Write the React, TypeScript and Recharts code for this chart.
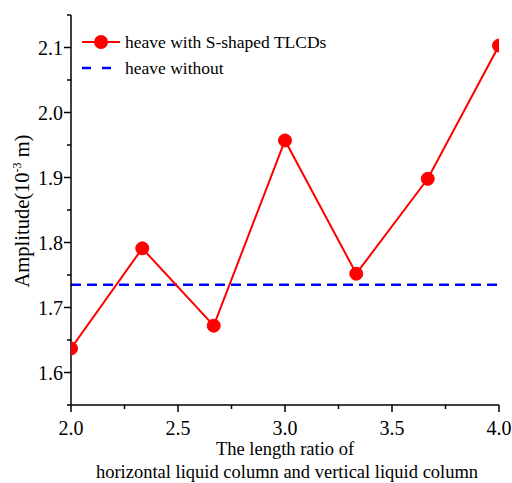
import React from 'react';
import { LineChart, Line, XAxis, YAxis, ReferenceLine, Legend } from 'recharts';

// length ratio (horizontal / vertical liquid column)
const ratios = [2.0, 2.333, 2.667, 3.0, 3.333, 3.667, 4.0];
// heave amplitude with S-shaped TLCDs, 10^-3 m
const heaveWithTLCD = [1.637, 1.791, 1.672, 1.957, 1.752, 1.898, 2.103];
// heave amplitude without dampers, 10^-3 m
const heaveWithout = 1.735;

const xTicks = [2.0, 2.25, 2.5, 2.75, 3.0, 3.25, 3.5, 3.75, 4.0];
const yTicks = [1.55, 1.6, 1.65, 1.7, 1.75, 1.8, 1.85, 1.9, 1.95, 2.0, 2.05, 2.1, 2.15];

const data = ratios.map((r, i) => ({ ratio: r, heave: heaveWithTLCD[i] }));

const FONT = '"Liberation Serif", "Times New Roman", serif';
const txt = { fontFamily: FONT, fill: '#000' };
const isMajor = (v: number, step: number) => Math.abs(v / step - Math.round(v / step)) < 1e-6;

// one tick renderer per side: major/minor lengths, labels only on left/bottom
const makeTick = (side: 'left' | 'bottom' | 'top' | 'right', step: number) => (props: any) => {
  const { x, y, payload } = props;
  const major = isMajor(payload.value, step);
  const len = major ? 7 : 4;
  let line;
  if (side === 'left' || side === 'right') line = <line x1={x} x2={x - len} y1={y} y2={y} />;
  else line = <line x1={x} x2={x} y1={y} y2={y + len} />;
  return (
    <g stroke="#000" strokeWidth={1.5}>
      {line}
      {major && side === 'left' && (
        <text x={x - 8} y={y} dy={7} textAnchor="end" stroke="none" style={{ ...txt, fontSize: 20 }}>
          {payload.value.toFixed(1)}
        </text>
      )}
      {major && side === 'bottom' && (
        <text x={x} y={y + 30} textAnchor="middle" stroke="none" style={{ ...txt, fontSize: 20 }}>
          {payload.value.toFixed(1)}
        </text>
      )}
    </g>
  );
};

const YLabel = () => (
  <text transform="translate(29, 211) rotate(-90)" textAnchor="middle" style={{ ...txt, fontSize: 20.5 }}>
    Amplitude(10
    <tspan dy={-8} style={{ fontSize: 12 }}>-3</tspan>
    <tspan dy={8}> m)</tspan>
  </text>
);

const XLabel = () => (
  <g textAnchor="middle" style={{ ...txt, fontSize: 18.5 }}>
    <text x={285} y={455}>The length ratio of</text>
    <text x={287} y={478}>horizontal liquid column and vertical liquid column</text>
  </g>
);

const LegendBox = () => (
  <svg width={280} height={60} style={{ display: 'block' }}>
    <line x1={2} x2={40} y1={12} y2={12} stroke="#ff0000" strokeWidth={2} />
    <circle cx={21} cy={12} r={7} fill="#ff0000" />
    <text x={45} y={18} style={{ ...txt, fontSize: 17.5 }}>heave with S-shaped TLCDs</text>
    <line x1={2} x2={40} y1={38} y2={38} stroke="#0000ff" strokeWidth={2.5} strokeDasharray="9 11" />
    <text x={45} y={44} style={{ ...txt, fontSize: 17.5 }}>heave without</text>
  </svg>
);

export default function App() {
  return (
    <div style={{ position: 'absolute', left: 0, top: 0, width: 512, height: 483, background: '#fff', fontFamily: FONT }}>
      <LineChart width={512} height={483} data={data} margin={{ top: 15, right: 13, left: 0, bottom: 0 }}>
        <XAxis
          dataKey="ratio"
          type="number"
          domain={[2, 4]}
          ticks={xTicks}
          allowDataOverflow
          height={78}
          tickSize={0}
          tickMargin={0}
          tickLine={false}
          tick={makeTick('bottom', 0.5)}
          axisLine={{ stroke: '#000', strokeWidth: 1.5 }}
          interval={0}
        />
        <XAxis
          xAxisId="top"
          orientation="top"
          dataKey="ratio"
          type="number"
          domain={[2, 4]}
          ticks={xTicks}
          height={0}
          tickSize={0}
          tickMargin={0}
          tickLine={false}
          tick={makeTick('top', 0.5)}
          axisLine={{ stroke: '#000', strokeWidth: 1.5 }}
          interval={0}
        />
        <YAxis
          type="number"
          domain={[1.55, 2.15]}
          ticks={yTicks}
          allowDataOverflow
          width={71}
          tickSize={0}
          tickMargin={0}
          tickLine={false}
          tick={makeTick('left', 0.1)}
          axisLine={{ stroke: '#000', strokeWidth: 1.5 }}
          interval={0}
        />
        <YAxis
          yAxisId="right"
          orientation="right"
          type="number"
          domain={[1.55, 2.15]}
          ticks={yTicks}
          width={0}
          tickSize={0}
          tickMargin={0}
          tickLine={false}
          tick={makeTick('right', 0.1)}
          axisLine={{ stroke: '#000', strokeWidth: 1.5 }}
          interval={0}
        />
        <ReferenceLine y={heaveWithout} stroke="#0000ff" strokeWidth={2.5} strokeDasharray="10 6" />
        <Line
          dataKey="heave"
          stroke="#ff0000"
          strokeWidth={2}
          dot={{ r: 6.5, fill: '#ff0000', stroke: '#ff0000', strokeWidth: 1 }}
          isAnimationActive={false}
        />
        <Legend
          layout="vertical"
          align="center"
          verticalAlign="middle"
          content={<LegendBox />}
          wrapperStyle={{ position: 'absolute', left: 80, top: 30, width: 280 }}
        />
        <YLabel />
        <XLabel />
      </LineChart>
    </div>
  );
}
